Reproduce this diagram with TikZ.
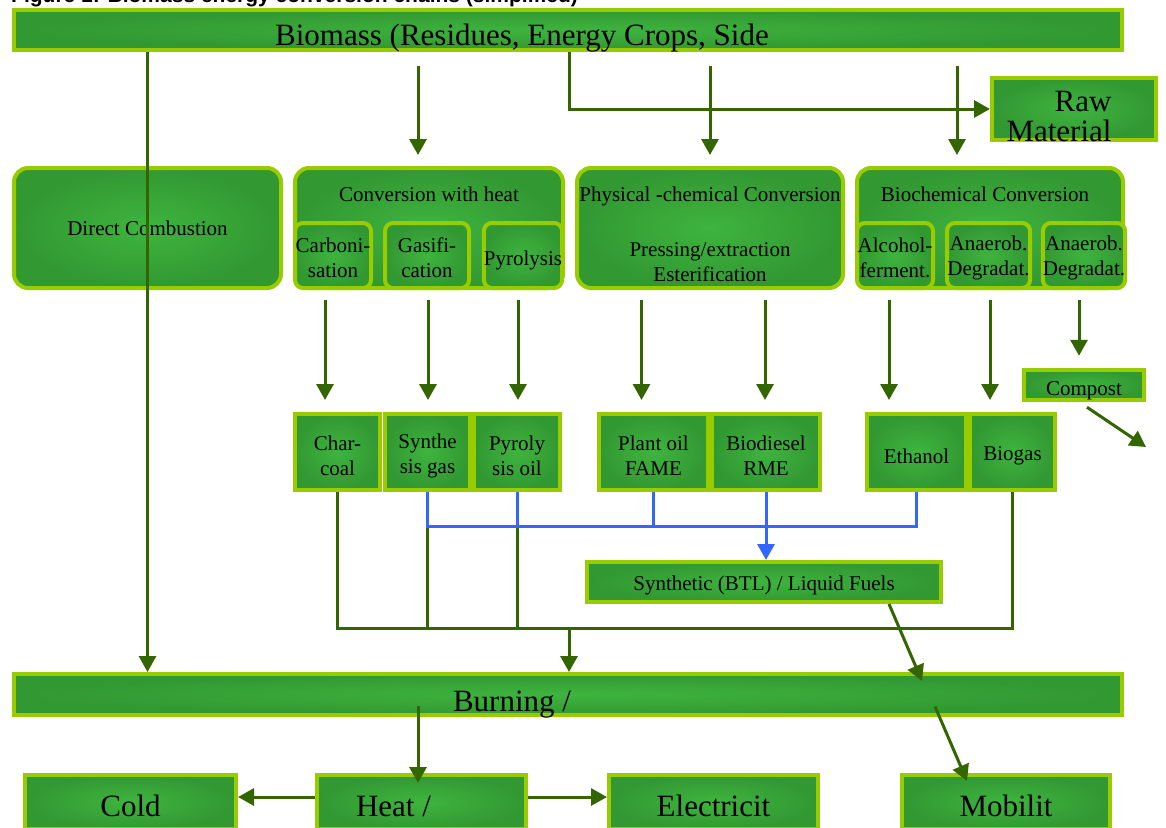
\documentclass[tikz,border=0pt]{standalone}
\usepackage{fontspec}
\setmainfont{Liberation Serif}
\newfontfamily\headfont{Liberation Sans}
\usepackage{tikz}
\usetikzlibrary{arrows.meta,positioning}

\definecolor{boxdark}{RGB}{50,152,50}
\definecolor{boxlight}{RGB}{62,180,62}
\definecolor{boxrim}{RGB}{153,204,0}
\definecolor{arrowgreen}{RGB}{51,102,0}
\definecolor{linkblue}{RGB}{51,102,255}

\newcommand{\chainfont}{\fontsize{21}{25}\selectfont}
\newcommand{\largechain}{\fontsize{31}{30}\selectfont}

\begin{document}
\begin{tikzpicture}
[
x=1pt, y=-1pt,
>={Triangle[length=16pt,width=17pt]},
sink/.style={execute at begin node={\rule{0pt}{#1}}},
bar/.style={rectangle, draw=boxrim, line width=4pt, inner color=boxlight, outer color=boxdark, inner sep=0pt},
group/.style={bar, rounded corners=14pt, font=\chainfont},
part/.style={bar, rounded corners=8pt, font=\chainfont, align=center, minimum height=65pt},
twopart/.style={part, sink=44pt},
product/.style={bar, font=\chainfont, align=center},
twoproduct/.style={product, minimum height=76pt, sink=47pt},
usebox/.style={bar, font=\largechain, minimum height=54pt, sink=29pt},
flow/.style={->, draw=arrowgreen, line width=3pt},
greenlink/.style={draw=arrowgreen, line width=3pt},
bluelink/.style={draw=linkblue, line width=3pt}
]
\useasboundingbox (0,0) rectangle (1166,827);

%Nodes
\node[anchor=base west, inner sep=0pt, font=\headfont\bfseries\fontsize{21}{25}\selectfont] (title) at (11,2) {Figure 1: Biomass energy conversion chains (simplified)};

\node[bar, minimum width=1108pt, minimum height=40pt,
      label={[font=\largechain, xshift=-46pt, yshift=-8pt]center:Biomass (Residues, Energy Crops, Side}] (biomass) at (568,30) {};
\node[bar, minimum width=164pt, minimum height=62pt,
      label={[font=\largechain, align=right, xshift=-15pt, yshift=-7pt]center:Raw\\Material}] (raw) at (1074,109) {};

\node[group, minimum width=267pt, minimum height=120pt] (direct) at (147.5,228) {Direct Combustion};
\node[group, minimum width=268pt, minimum height=120pt,
      label={[font=\chainfont, anchor=north, yshift=-17pt]north:Conversion with heat}] (thermo) at (429,228) {};
\node[group, minimum width=266pt, minimum height=120pt,
      label={[font=\chainfont, anchor=north, yshift=-17pt]north:Physical -chemical Conversion},
      label={[font=\chainfont, align=center, yshift=-34pt]center:Pressing/extraction\\Esterification}] (physchem) at (710,228) {};
\node[group, minimum width=266pt, minimum height=120pt,
      label={[font=\chainfont, anchor=north, yshift=-17pt, xshift=-5pt]north:Biochemical Conversion}] (biochem) at (990,228) {};

\node[twopart, minimum width=76pt] (carbon)   at (333,255.5)   {Carboni-\\sation};
\node[twopart, minimum width=84pt] (gasif)    at (427,255.5)   {Gasifi-\\cation};
\node[part, minimum width=76pt, sink=24pt] (pyrol) at (523,255.5) {Pyrolysis};
\node[twopart, minimum width=76pt] (alcohol)  at (895,255.5)   {Alcohol-\\ferment.};
\node[twopart, minimum width=83pt] (anaerobA) at (988.5,255.5) {Anaerob.\\Degradat.};
\node[twopart, minimum width=78pt] (anaerobB) at (1084,255.5)  {Anaerob.\\Degradat.};

\node[twoproduct, minimum width=85pt]  (charcoal)  at (337.5,452) {Char-\\coal};
\node[twoproduct, minimum width=85pt]  (syngas)    at (427.5,452) {Synthe\\sis gas};
\node[twoproduct, minimum width=86pt]  (pyroil)    at (517,452)   {Pyroly\\sis oil};
\node[twoproduct, minimum width=109pt] (plantoil)  at (653.5,452) {Plant oil\\FAME};
\node[twoproduct, minimum width=108pt] (biodiesel) at (766,452)   {Biodiesel\\RME};
\node[product, minimum width=99pt, minimum height=76pt, sink=22.5pt] (ethanol) at (916.5,452)  {Ethanol};
\node[product, minimum width=85pt, minimum height=76pt, sink=22.5pt] (biogas)  at (1012.5,452) {Biogas};
\node[product, minimum width=120pt, minimum height=30pt, sink=26pt] (compost)  at (1084,385)   {Compost};

\node[product, minimum width=354pt, minimum height=40pt, sink=22.5pt] (synthfuel) at (764,582) {Synthetic (BTL) / Liquid Fuels};

\node[bar, minimum width=1108pt, minimum height=41pt,
      label={[font=\largechain, xshift=-56pt, yshift=-10pt]center:Burning /}] (burning) at (568,694.5) {};

\node[usebox, minimum width=211pt] (cold)     at (130.5,802) {Cold};
\node[bar, font=\largechain, minimum height=54pt, minimum width=209pt,
      label={[font=\largechain, xshift=-28pt, yshift=-4pt]center:Heat /}] (heatuse) at (421.5,802) {};
\node[usebox, minimum width=209pt] (power)    at (713.5,802) {Electricit};
\node[usebox, minimum width=208pt] (mobility) at (1006,802)  {Mobilit};

\coordinate (mix)        at (765,526);
\coordinate (collect)    at (569,628);
\coordinate (compostout) at (1146,447);

%Lines
\draw[flow] (biomass.south -| direct) -- (burning.north -| direct);
\draw[flow, shorten <=14pt, shorten >=11pt] ([xshift=-11pt]thermo.north |- biomass.south) -- ([xshift=-11pt]thermo.north);
\draw[flow] ([xshift=1pt]biomass.south) |- (raw.west);
\draw[flow, shorten <=14pt, shorten >=11pt] (physchem.north |- biomass.south) -- (physchem.north);
\draw[flow, shorten <=14pt, shorten >=11pt] ([xshift=-33pt]biochem.north |- biomass.south) -- ([xshift=-33pt]biochem.north);

\draw[flow, shorten <=10pt, shorten >=12pt] ([xshift=-8pt]carbon.south) -- ([xshift=-8pt]carbon.south |- charcoal.north);
\draw[flow, shorten <=10pt, shorten >=12pt] ([xshift=1pt]gasif.south) -- ([xshift=1pt]gasif.south |- syngas.north);
\draw[flow, shorten <=10pt, shorten >=12pt] ([xshift=-5pt]pyrol.south) -- ([xshift=-5pt]pyrol.south |- pyroil.north);
\draw[flow, shorten <=10pt, shorten >=12pt] ([xshift=-12pt]plantoil.north |- physchem.south) -- ([xshift=-12pt]plantoil.north);
\draw[flow, shorten <=10pt, shorten >=12pt] ([xshift=-1pt]biodiesel.north |- physchem.south) -- ([xshift=-1pt]biodiesel.north);
\draw[flow, shorten <=10pt, shorten >=12pt] ([xshift=-6pt]alcohol.south) -- ([xshift=-6pt]alcohol.south |- ethanol.north);
\draw[flow, shorten <=10pt, shorten >=12pt] ([xshift=1.5pt]anaerobA.south) -- ([xshift=1.5pt]anaerobA.south |- biogas.north);
\draw[flow, shorten <=10pt, shorten >=12pt] ([xshift=-5pt]anaerobB.south) -- ([xshift=-5pt]anaerobB.south |- compost.north);
\draw[flow] ([xshift=3pt,yshift=-5pt]compost.south) -- (compostout);

\draw[greenlink] (charcoal.south) |- (collect) -| (biogas.south);
\draw[greenlink] (syngas.south |- mix) -- (syngas.south |- collect);
\draw[greenlink] (pyroil.south |- mix) -- (pyroil.south |- collect);
\draw[bluelink] (syngas.south) |- (mix);
\draw[bluelink] (ethanol.south) |- (mix);
\draw[bluelink] (pyroil.south) -- (pyroil.south |- mix);
\draw[bluelink] (plantoil.south) -- (plantoil.south |- mix);
\draw[bluelink, ->] (biodiesel.south) -- (biodiesel.south |- synthfuel.north);

\draw[flow] (collect) -- (collect |- burning.north);
\draw[flow] ([xshift=125pt]synthfuel.south) -- ([xshift=354pt,yshift=-9pt]burning.north);
\draw[flow] ([xshift=367pt,yshift=-12pt]burning.center) -- ([xshift=-39pt,yshift=-8pt]mobility.north);
\draw[flow] ([xshift=-3.5pt,yshift=-11pt]heatuse.north |- burning.center) -- ([xshift=-3.5pt,yshift=-10pt]heatuse.north);
\draw[flow] ([yshift=5pt]heatuse.west) -- ([yshift=5pt]cold.east);
\draw[flow] ([yshift=5pt]heatuse.east) -- ([yshift=5pt]power.west);
\end{tikzpicture}
\end{document}
